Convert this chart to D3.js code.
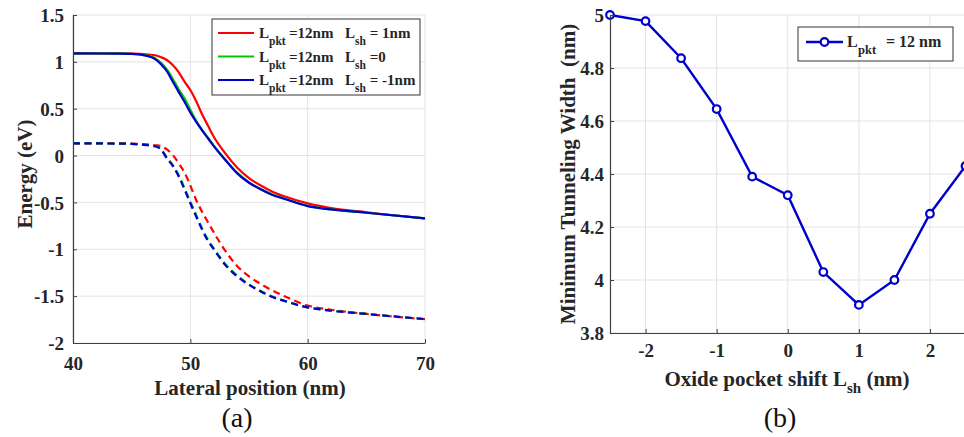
<!DOCTYPE html>
<html><head><meta charset="utf-8">
<script src="https://cdn.jsdelivr.net/npm/d3@7"></script>
<style>
html,body{margin:0;padding:0;background:#fff;overflow:hidden}
svg{display:block;font-family:"Liberation Serif","Times New Roman",serif}
text{white-space:pre}
</style></head><body>
<svg id="c" width="964" height="437"></svg>
<script>
// ---------- Data: panel (a) ----------
const latX = [40, 44, 45, 46, 47, 47.5, 48, 48.5, 49, 49.5, 50, 50.5, 51, 51.5, 52, 53, 54, 55, 56, 57, 58, 60, 62, 65, 70];
const ecShiftP1 = [1.09, 1.09, 1.088, 1.083, 1.07, 1.05, 1.02, 0.966, 0.89, 0.79, 0.70, 0.58, 0.44, 0.32, 0.2, 0.02, -0.13, -0.24, -0.32, -0.385, -0.435, -0.51, -0.56, -0.605, -0.67];
const ecShift0  = [1.09, 1.088, 1.086, 1.075, 1.04, 0.99, 0.92, 0.82, 0.71, 0.61, 0.49, 0.37, 0.275, 0.19, 0.105, -0.045, -0.185, -0.285, -0.36, -0.415, -0.46, -0.535, -0.575, -0.61, -0.67];
const ecShiftM1 = [1.09, 1.088, 1.085, 1.072, 1.03, 0.975, 0.9, 0.79, 0.68, 0.575, 0.46, 0.36, 0.27, 0.185, 0.1, -0.05, -0.19, -0.29, -0.36, -0.42, -0.46, -0.54, -0.575, -0.61, -0.67];
const evShiftP1 = [0.13, 0.13, 0.128, 0.122, 0.11, 0.1, 0.065, 0.006, -0.08, -0.18, -0.32, -0.474, -0.6, -0.71, -0.82, -1.02, -1.18, -1.29, -1.37, -1.44, -1.5, -1.6, -1.645, -1.69, -1.745];
const evShift0  = [0.13, 0.128, 0.124, 0.116, 0.1, 0.07, -0.02, -0.1, -0.205, -0.345, -0.49, -0.635, -0.775, -0.895, -0.99, -1.16, -1.28, -1.375, -1.445, -1.505, -1.55, -1.62, -1.655, -1.69, -1.745];
const evShiftM1 = [0.13, 0.128, 0.124, 0.115, 0.1, 0.065, -0.03, -0.11, -0.22, -0.36, -0.51, -0.65, -0.79, -0.91, -1.0, -1.17, -1.29, -1.38, -1.45, -1.51, -1.55, -1.62, -1.655, -1.69, -1.745];
const seriesColors = ["#ff0000", "#00c800", "#0000cd"];
const legendShiftText = [" = 1nm", " =0", " = -1nm"];
const aXTicks = [40, 50, 60, 70];
const aYTicks = [1.5, 1, 0.5, 0, -0.5, -1, -1.5, -2];
const aYTickLabels = ["1.5", "1", "0.5", "0", "-0.5", "-1", "-1.5", "-2"];

// ---------- Data: panel (b) ----------
const shiftX = [-2.5, -2, -1.5, -1, -0.5, 0, 0.5, 1, 1.5, 2, 2.5];
const minWidth = [5.0, 4.977, 4.837, 4.645, 4.39, 4.32, 4.03, 3.906, 4.0, 4.25, 4.43];
const bXTicks = [-2, -1, 0, 1, 2];
const bXTickLabels = ["-2", "-1", "0", "1", "2"];
const bYTicks = [3.8, 4, 4.2, 4.4, 4.6, 4.8, 5];
const bYTickLabels = ["3.8", "4", "4.2", "4.4", "4.6", "4.8", "5"];

const svg = d3.select("#c");
const axisCol = "#404040", gridCol = "#e3e3e3", textCol = "#262626";

// ================= Panel (a) =================
const ax = d3.scaleLinear().domain([40, 70]).range([73, 425]);
const ay = d3.scaleLinear().domain([-2, 1.5]).range([343, 15]);
const ga = svg.append("g");
ga.selectAll(".gx").data(aXTicks).enter().append("line")
  .attr("x1", d => ax(d)).attr("x2", d => ax(d)).attr("y1", ay(-2)).attr("y2", ay(1.5))
  .attr("stroke", gridCol).attr("stroke-width", 1);
ga.selectAll(".gy").data(aYTicks).enter().append("line")
  .attr("x1", ax(40)).attr("x2", ax(70)).attr("y1", d => ay(d)).attr("y2", d => ay(d))
  .attr("stroke", gridCol).attr("stroke-width", 1);

const lineA = d3.line().x(d => ax(d[0])).y(d => ay(d[1])).curve(d3.curveMonotoneX);
const ecSets = [ecShiftP1, ecShift0, ecShiftM1];
const evSets = [evShiftP1, evShift0, evShiftM1];
ecSets.forEach((s, i) => {
  ga.append("path").datum(latX.map((x, j) => [x, s[j]])).attr("d", lineA)
    .attr("fill", "none").attr("stroke", seriesColors[i]).attr("stroke-width", 2.2);
});
evSets.forEach((s, i) => {
  ga.append("path").datum(latX.map((x, j) => [x, s[j]])).attr("d", lineA)
    .attr("fill", "none").attr("stroke", seriesColors[i]).attr("stroke-width", 2.2)
    .attr("stroke-dasharray", "7,4.5");
});

const axA = ga.append("g").attr("transform", `translate(0,${ay(-2)})`)
  .call(d3.axisBottom(ax).tickValues(aXTicks).tickFormat(d3.format("d")).tickSizeInner(-4).tickSizeOuter(0).tickPadding(10));
const ayA = ga.append("g").attr("transform", `translate(${ax(40)},0)`)
  .call(d3.axisLeft(ay).tickValues(aYTicks).tickFormat((d, i) => aYTickLabels[i]).tickSizeInner(-4).tickSizeOuter(0).tickPadding(9));
[axA, ayA].forEach(g => {
  g.select(".domain").attr("stroke", axisCol).attr("stroke-width", 1.2);
  g.selectAll(".tick line").attr("stroke", axisCol);
  g.selectAll("text").attr("font-family", "Liberation Serif").attr("font-weight", "bold")
    .attr("font-size", 19).attr("fill", textCol);
});
axA.selectAll("text").attr("dy", "0.9em");
ayA.selectAll("text").attr("dy", "0.35em");

ga.append("text").attr("x", 250).attr("y", 395).attr("text-anchor", "middle")
  .attr("font-size", 21).attr("font-weight", "bold").attr("fill", textCol).text("Lateral position (nm)");
ga.append("text").attr("transform", "translate(32,174) rotate(-90)").attr("text-anchor", "middle")
  .attr("font-size", 21).attr("font-weight", "bold").attr("fill", textCol).text("Energy (eV)");
ga.append("text").attr("x", 237).attr("y", 427).attr("text-anchor", "middle")
  .attr("font-size", 28).attr("fill", "#111").text("(a)");

const legA = ga.append("g");
legA.append("rect").attr("x", 212).attr("y", 19).attr("width", 208).attr("height", 76)
  .attr("fill", "#fff").attr("stroke", "#555").attr("stroke-width", 1.2);
seriesColors.forEach((c, i) => {
  const yy = 33 + i * 23.5;
  legA.append("line").attr("x1", 218).attr("x2", 254).attr("y1", yy).attr("y2", yy)
    .attr("stroke", c).attr("stroke-width", 2.2);
  const t = legA.append("text").attr("y", yy + 5).attr("font-size", 15).attr("font-weight", "bold").attr("fill", textCol);
  t.append("tspan").attr("x", 259).text("L");
  t.append("tspan").attr("x", 269).attr("dy", 7).attr("font-size", 11.5).text("pkt");
  t.append("tspan").attr("x", 289).attr("dy", -7).text("=12nm");
  t.append("tspan").attr("x", 345).text("L");
  t.append("tspan").attr("x", 355).attr("dy", 7).attr("font-size", 11.5).text("sh");
  t.append("tspan").attr("x", 366).attr("dy", -7).text(legendShiftText[i]);
});

// ================= Panel (b) =================
const bx = d3.scaleLinear().domain([-2.5, 2.5]).range([610, 965.5]);
const by = d3.scaleLinear().domain([3.8, 5]).range([333, 15]);
const gb = svg.append("g");
gb.selectAll(".gx").data(bXTicks).enter().append("line")
  .attr("x1", d => bx(d)).attr("x2", d => bx(d)).attr("y1", by(3.8)).attr("y2", by(5))
  .attr("stroke", gridCol).attr("stroke-width", 1);
gb.selectAll(".gy").data(bYTicks).enter().append("line")
  .attr("x1", bx(-2.5)).attr("x2", bx(2.5)).attr("y1", d => by(d)).attr("y2", d => by(d))
  .attr("stroke", gridCol).attr("stroke-width", 1);

const lineB = d3.line().x(d => bx(d[0])).y(d => by(d[1]));
const ptsB = shiftX.map((x, j) => [x, minWidth[j]]);
gb.append("path").datum(ptsB).attr("d", lineB).attr("fill", "none")
  .attr("stroke", "#0000cd").attr("stroke-width", 2.4);
gb.selectAll(".mk").data(ptsB).enter().append("circle")
  .attr("cx", d => bx(d[0])).attr("cy", d => by(d[1])).attr("r", 3.8)
  .attr("fill", "#fff").attr("stroke", "#0000cd").attr("stroke-width", 2.2);

const axB = gb.append("g").attr("transform", `translate(0,${by(3.8)})`)
  .call(d3.axisBottom(bx).tickValues(bXTicks).tickFormat((d, i) => bXTickLabels[i]).tickSizeInner(-4).tickSizeOuter(0).tickPadding(10));
const ayB = gb.append("g").attr("transform", `translate(${bx(-2.5)},0)`)
  .call(d3.axisLeft(by).tickValues(bYTicks).tickFormat((d, i) => bYTickLabels[i]).tickSizeInner(-4).tickSizeOuter(0).tickPadding(6));
[axB, ayB].forEach(g => {
  g.select(".domain").attr("stroke", axisCol).attr("stroke-width", 1.2);
  g.selectAll(".tick line").attr("stroke", axisCol);
  g.selectAll("text").attr("font-family", "Liberation Serif").attr("font-weight", "bold")
    .attr("font-size", 19).attr("fill", textCol);
});
axB.selectAll("text").attr("dy", "0.75em");
ayB.selectAll("text").attr("dy", "0.35em");

const xl = gb.append("text").attr("x", 787).attr("y", 386).attr("text-anchor", "middle")
  .attr("font-size", 21).attr("font-weight", "bold").attr("fill", textCol);
xl.append("tspan").text("Oxide pocket shift L");
xl.append("tspan").attr("dy", 7).attr("font-size", 15).text("sh");
xl.append("tspan").attr("dy", -7).text(" (nm)");
gb.append("text").attr("transform", "translate(575,174) rotate(-90)").attr("text-anchor", "middle")
  .attr("font-size", 21).attr("font-weight", "bold").attr("fill", textCol).text("Minimum Tunneling Width  (nm)");
gb.append("text").attr("x", 780).attr("y", 427).attr("text-anchor", "middle")
  .attr("font-size", 28).attr("fill", "#111").text("(b)");

const legB = gb.append("g");
legB.append("rect").attr("x", 798).attr("y", 27).attr("width", 155).attr("height", 34)
  .attr("fill", "#fff").attr("stroke", "#555").attr("stroke-width", 1.2);
legB.append("line").attr("x1", 806).attr("x2", 843).attr("y1", 42).attr("y2", 42)
  .attr("stroke", "#0000cd").attr("stroke-width", 2.4);
legB.append("circle").attr("cx", 824.5).attr("cy", 42).attr("r", 3.8)
  .attr("fill", "#fff").attr("stroke", "#0000cd").attr("stroke-width", 2.2);
const lt = legB.append("text").attr("y", 47).attr("font-size", 16).attr("font-weight", "bold").attr("fill", textCol);
lt.append("tspan").attr("x", 847).text("L");
lt.append("tspan").attr("x", 858).attr("dy", 7).attr("font-size", 12.5).text("pkt");
lt.append("tspan").attr("x", 882).attr("dy", -7).text(" = 12 nm");
</script>
</body></html>
